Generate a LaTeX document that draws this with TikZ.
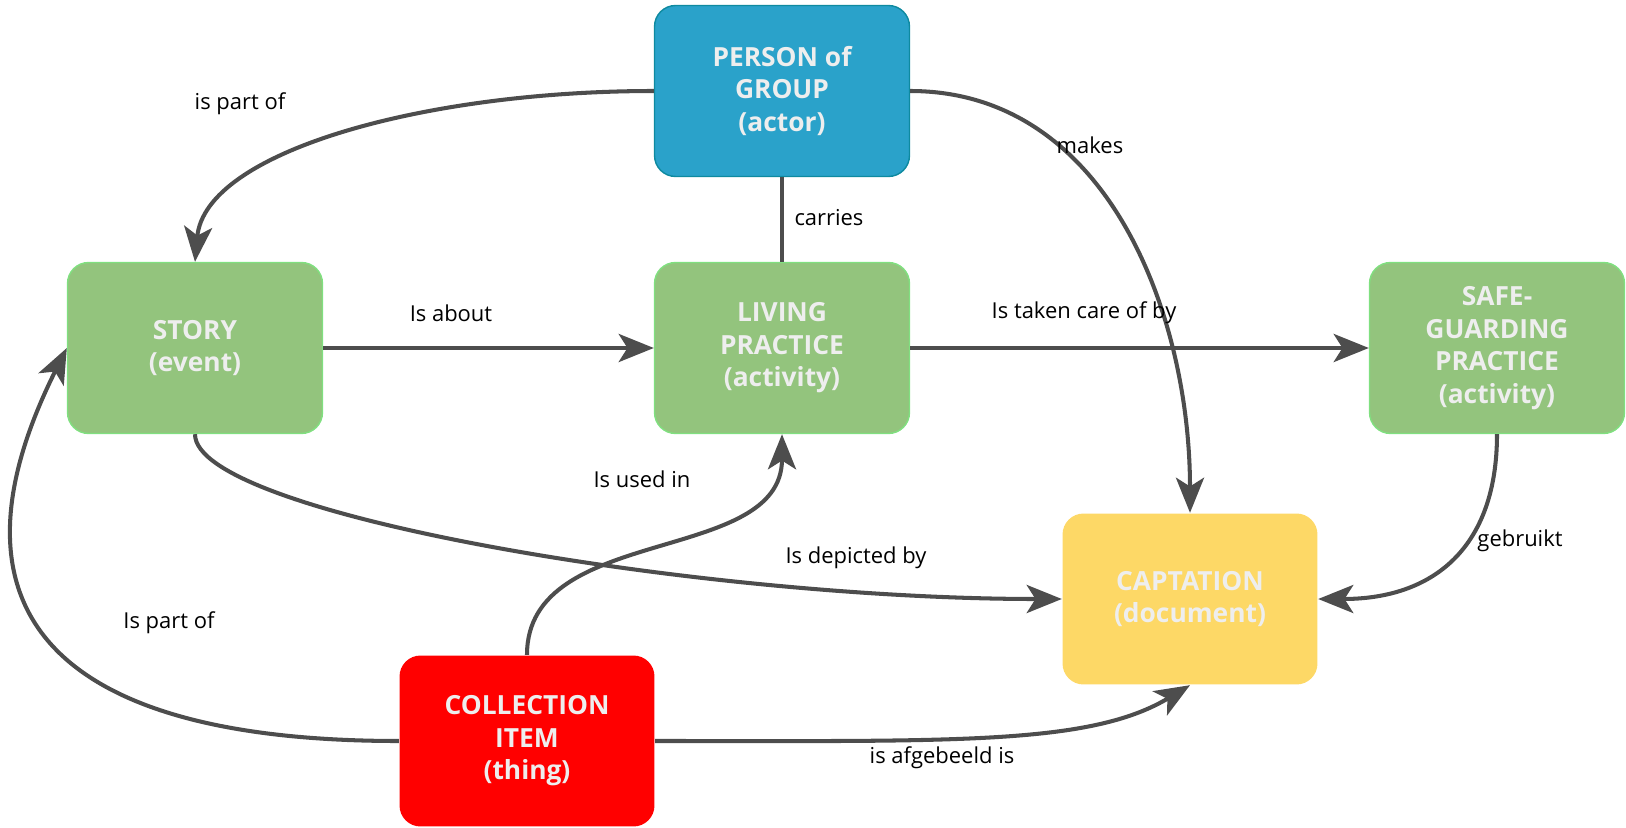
\documentclass[tikz,border=0pt]{standalone}
\usepackage{fontspec}
\setmainfont{Open Sans}
\usetikzlibrary{arrows.meta}

\definecolor{actorblue}{HTML}{2AA2CA}
\definecolor{actorline}{HTML}{0E8AA0}
\definecolor{practgreen}{HTML}{93C47D}
\definecolor{practline}{HTML}{80E080}
\definecolor{docyellow}{HTML}{FDD866}
\definecolor{thingred}{HTML}{FF0000}
\definecolor{boxtext}{HTML}{EEEEEE}
\definecolor{linkgray}{HTML}{4D4D4D}

\tikzset{
	entity/.style={rounded corners=0.42cm, minimum width=5.1cm, minimum height=3.42cm,
		align=center, text=boxtext, line width=0.8pt,
		font=\fontsize{15}{18.5}\selectfont\bfseries},
	plain/.style={draw=linkgray, line width=2.3pt},
	link/.style={plain, -{Stealth[length=20pt,width=16pt,inset=5pt]}},
	lbl/.style={font=\fontsize{12.5}{15}\selectfont, text=black, inner sep=1pt},
}

\begin{document}
\begin{tikzpicture}[x=0.02cm, y=-0.02cm]
	\useasboundingbox (0,0) rectangle (1626,828);

	% boxes
	\node[entity, fill=actorblue, draw=actorline] (person) at (782,91) {PERSON of\\GROUP\\(actor)};
	\node[entity, fill=practgreen, draw=practline] (story) at (195,348) {STORY\\(event)};
	\node[entity, fill=practgreen, draw=practline] (living) at (782,348) {LIVING\\PRACTICE\\(activity)};
	\node[entity, fill=practgreen, draw=practline] (safe) at (1497,348) {SAFE-\\GUARDING\\PRACTICE\\(activity)};
	\node[entity, fill=docyellow] (capt) at (1190,599) {CAPTATION\\(document)};
	\node[entity, fill=thingred] (item) at (527,741) {COLLECTION\\ITEM\\(thing)};

	% links
	\draw[link] (person.west) .. controls +(-230,0) and +(10,-110) .. (story.north);
	\draw[plain] (person.south) -- (living.north);
	\draw[link] (person.east) to[out=0,in=90] (capt.north);
	\draw[link] (story.east) -- (living.west);
	\draw[link] (living.east) -- (safe.west);
	\draw[link] (story.south) .. controls +(0,80) and +(-360,0) .. (capt.west);
	\draw[link] (safe.south) to[out=-90,in=0,looseness=1.2] (capt.east);
	\draw[link] (item.north) to[out=90,in=-90] (living.south);
	\draw[link] (item.west) .. controls +(-350,0) and +(-130,260) .. (story.west);
	\draw[link] (item.east) .. controls +(300,0) and +(-100,60) .. (capt.south);

	% labels
	\node[lbl] (lpart1) at (240,104) {is part of};
	\node[lbl] (lcarry) at (829,218) {carries};
	\node[lbl] (lmake) at (1090,145) {makes};
	\node[lbl] (labout) at (451,313) {Is about};
	\node[lbl] (lcare) at (1084,313) {Is taken care of by};
	\node[lbl] (lused) at (642,479) {Is used in};
	\node[lbl] (ldepict) at (856,558) {Is depicted by};
	\node[lbl] (luse) at (1520,541) {gebruikt};
	\node[lbl] (lpart2) at (169,623) {Is part of};
	\node[lbl] (lafgeb) at (942,758) {is afgebeeld is};
\end{tikzpicture}
\end{document}
